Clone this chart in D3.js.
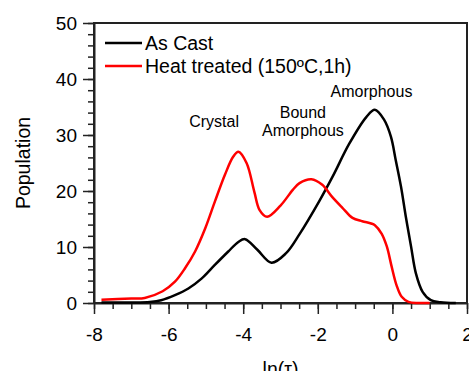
<!DOCTYPE html>
<html>
<head>
<meta charset="utf-8">
<script src="https://cdn.jsdelivr.net/npm/d3@7"></script>
<style>
    body { margin: 0; background: #fff; }
    svg { display: block; font-family: 'Liberation Sans', Arial, sans-serif; }
</style>
</head>
<body>
<svg id="chart"></svg>
<script>
// As Cast (black)
let castX = [-7.8, -7, -6.5, -6.2, -5.83, -5.47, -5.11, -4.76, -4.4, -4.13, -3.95, -3.62, -3.24, -2.85, -2.49, -1.96, -1.6, -1.16, -0.7, -0.47, -0.22, -0.04, 0.09, 0.23, 0.36, 0.5, 0.63, 0.81, 1.03, 1.29, 1.7];
let castY = [0.1, 0.1, 0.2, 0.5, 1.4, 2.6, 4.4, 6.8, 9.2, 10.9, 11.4, 9.5, 7.2, 8.9, 12.3, 18.2, 22.6, 28.4, 33.2, 34.5, 32.7, 29.7, 25.5, 20.8, 15.4, 10.1, 5.3, 2.0, 0.5, 0.15, 0];

// Heat treated (red)
let heatX = [-7.8, -7, -6.64, -6.16, -5.83, -5.56, -5.29, -5.02, -4.76, -4.49, -4.27, -4.13, -3.91, -3.7, -3.56, -3.36, -3.0, -2.67, -2.49, -2.17, -1.88, -1.61, -1.34, -1.07, -0.81, -0.57, -0.47, -0.29, -0.15, -0.02, 0.11, 0.25, 0.43, 0.7, 1.0];
let heatY = [0.6, 0.8, 0.9, 2.1, 3.8, 6.2, 9.2, 13.3, 18.1, 22.9, 26.1, 27.0, 25.0, 19.8, 16.6, 15.4, 17.4, 20.2, 21.4, 22.1, 21.1, 18.9, 17.0, 15.2, 14.6, 14.2, 13.9, 12.4, 10.1, 6.5, 3.2, 1.1, 0.2, 0, 0];

let xTicks = [-8, -6, -4, -2, 0, 2];
let yTicks = [0, 10, 20, 30, 40, 50];

let seriesNames = ['As Cast', 'Heat treated (150ºC,1h)'];
let seriesColors = ['#000000', '#ff0000'];

let notes = [
    { lines: ['Crystal'], x: -4.78, y: 31.5 },
    { lines: ['Bound', 'Amorphous'], x: -2.4, y: 33.0 },
    { lines: ['Amorphous'], x: -0.56, y: 36.8 }
];

let width = 469,
    height = 371;

let margin = { left: 94, right: 2, top: 23, bottom: 68 };

let svg = d3.select('#chart')
    .attr('width', width)
    .attr('height', height);

let scaleX = d3.scaleLinear()
    .domain([-8, 2])
    .range([margin.left, width - margin.right]);

let scaleY = d3.scaleLinear()
    .domain([0, 50])
    .range([height - margin.bottom, margin.top]);

let axisColor = '#222';

// minor ticks
svg.append('g')
    .attr('transform', `translate(0, ${scaleY(0)})`)
    .call(d3.axisBottom(scaleX).tickValues(d3.range(-8, 2.01, 0.5)).tickSize(6).tickFormat(''))
    .call(g => g.select('.domain').remove());

svg.append('g')
    .attr('transform', `translate(${scaleX(-8)}, 0)`)
    .call(d3.axisLeft(scaleY).tickValues(d3.range(0, 50.01, 2)).tickSize(6).tickFormat(''))
    .call(g => g.select('.domain').remove());

// major ticks
let xAxisG = svg.append('g')
    .attr('transform', `translate(0, ${scaleY(0)})`)
    .call(d3.axisBottom(scaleX).tickValues(xTicks).tickSize(11).tickPadding(14).tickSizeOuter(0).tickFormat(d => String(d)));

let yAxisG = svg.append('g')
    .attr('transform', `translate(${scaleX(-8)}, 0)`)
    .call(d3.axisLeft(scaleY).tickValues(yTicks).tickSize(11).tickPadding(6).tickSizeOuter(0).tickFormat(d => String(d)));

svg.selectAll('.tick line').attr('stroke', axisColor).attr('stroke-width', 1.5);
svg.selectAll('.domain').attr('stroke', axisColor).attr('stroke-width', 2);
svg.selectAll('.tick text')
    .attr('fill', '#000')
    .style('font-size', '19px')
    .style('font-family', "'Liberation Sans', Arial, sans-serif");

// frame
svg.append('rect')
    .attr('x', scaleX(-8))
    .attr('y', scaleY(50))
    .attr('width', scaleX(2) - scaleX(-8))
    .attr('height', scaleY(0) - scaleY(50))
    .attr('fill', 'none')
    .attr('stroke', axisColor)
    .attr('stroke-width', 2);

// curves
let line = d3.line()
    .x(d => scaleX(d[0]))
    .y(d => scaleY(d[1]))
    .curve(d3.curveCatmullRom.alpha(0.5));

let series = [
    d3.zip(castX, castY),
    d3.zip(heatX, heatY)
];

svg.append('g')
    .selectAll('path')
    .data(series)
    .enter()
    .append('path')
    .attr('d', line)
    .attr('fill', 'none')
    .attr('stroke', (d, i) => seriesColors[i])
    .attr('stroke-width', 2.5)
    .attr('stroke-linejoin', 'round');

// legend
let legend = svg.append('g')
    .selectAll('g')
    .data(seriesNames)
    .enter()
    .append('g')
    .attr('transform', (d, i) => `translate(105, ${43 + i * 23})`);

legend.append('line')
    .attr('x1', 0)
    .attr('x2', 37)
    .attr('stroke', (d, i) => seriesColors[i])
    .attr('stroke-width', 2.5);

legend.append('text')
    .attr('x', 40)
    .attr('y', 7)
    .style('font-size', '19.5px')
    .text(d => d);

// annotations
let noteText = svg.append('g')
    .selectAll('text')
    .data(notes)
    .enter()
    .append('text')
    .attr('text-anchor', 'middle')
    .attr('x', d => scaleX(d.x))
    .attr('y', d => scaleY(d.y))
    .style('font-size', '16px');

noteText.selectAll('tspan')
    .data(d => d.lines.map(l => ({ text: l, x: d.x })))
    .enter()
    .append('tspan')
    .attr('x', d => scaleX(d.x))
    .attr('dy', (d, i) => i === 0 ? 0 : 18)
    .text(d => d.text);

// axis titles
svg.append('text')
    .attr('transform', `translate(30, ${(scaleY(0) + scaleY(50)) / 2}) rotate(-90)`)
    .attr('text-anchor', 'middle')
    .style('font-size', '19.5px')
    .text('Population');

svg.append('text')
    .attr('x', (scaleX(-8) + scaleX(2)) / 2)
    .attr('y', 376)
    .attr('text-anchor', 'middle')
    .style('font-size', '19.5px')
    .text('ln(τ)');
</script>
</body>
</html>
